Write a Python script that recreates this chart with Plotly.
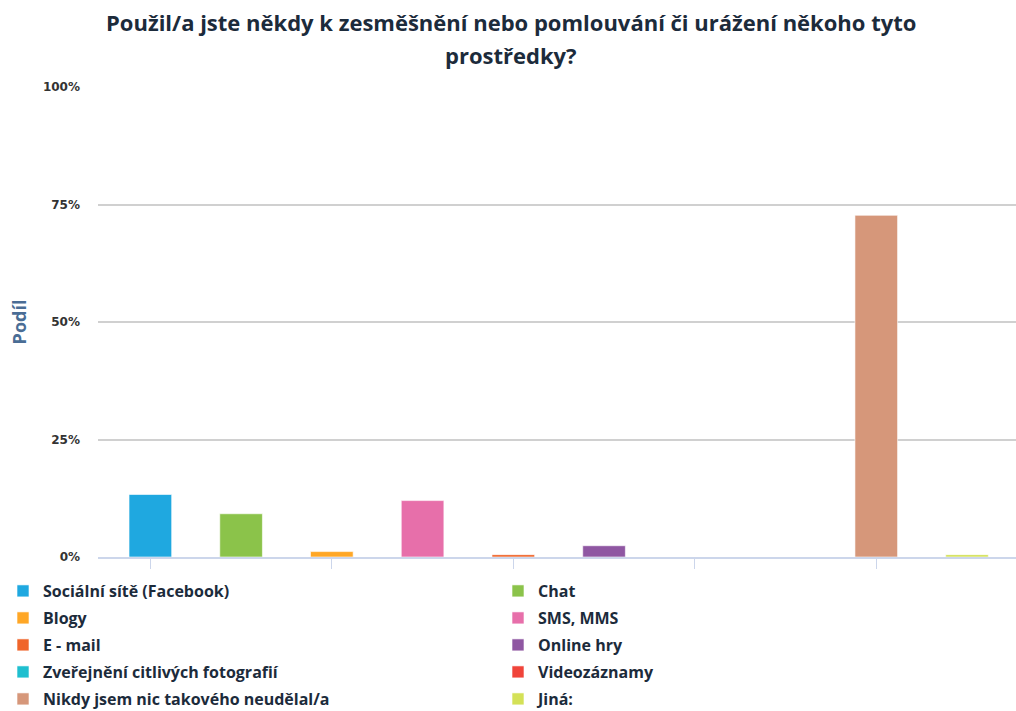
import plotly.graph_objects as go

title_lines = ["Použil/a jste někdy k zesměšnění nebo pomlouvání či urážení někoho tyto",
               "prostředky?"]
categories = ["Sociální sítě (Facebook)", "Chat", "Blogy", "SMS, MMS", "E - mail",
              "Online hry", "Zveřejnění citlivých fotografií", "Videozáznamy",
              "Nikdy jsem nic takového neudělal/a", "Jiná:"]
values = [13.3, 9.2, 1.15, 12.0, 0.5, 2.4, 0.0, 0.0, 72.7, 0.5]
colors = ["#1fa8e0", "#8bc34a", "#ffa726", "#e76faa", "#f0652a",
          "#8f57a2", "#1fbfcf", "#f0443a", "#d6977a", "#d4e157"]
y_ticks = [0, 25, 50, 75, 100]
y_tick_labels = ["0%", "25%", "50%", "75%", "100%"]

W, H = 1016, 711
ML, MR, MT, MB = 98, 0, 87, 154
plot_h = H - MT - MB
plot_w = W - ML - MR


def py(p):  # pixel row -> paper y
    return (H - MB - p) / plot_h


def px(p):  # pixel col -> paper x
    return (p - ML) / plot_w


legend_names = ["legend", "legend2", "legend3", "legend4", "legend5"]

fig = go.Figure()
for i, (name, v, c) in enumerate(zip(categories, values, colors)):
    fig.add_trace(go.Bar(
        x=[i], y=[v], name=name, width=0.47,
        legend=legend_names[i // 2],
        marker=dict(color=c, line=dict(color="rgba(255,255,255,0.6)", width=1)),
        hovertemplate=name + ": %{y}%<extra></extra>",
    ))

font_main = "Open Sans"
title_font = dict(family=font_main, size=22, color="#1c2b3b", weight="bold")
legend_font = dict(family=font_main, size=16, color="#1c2b3b", weight="bold")

legends = {}
row_y = [591, 618, 645, 672, 699]
for k, ln in enumerate(legend_names):
    legends[ln] = dict(orientation="h", x=px(3), xanchor="left", y=py(row_y[k]),
                       yanchor="middle", entrywidth=450, entrywidthmode="pixels",
                       font=legend_font, bgcolor="rgba(0,0,0,0)",
                       itemclick=False, itemdoubleclick=False)

fig.update_layout(
    width=W, height=H,
    barmode="overlay",
    paper_bgcolor="white", plot_bgcolor="white",
    margin=dict(l=ML, r=MR, t=MT, b=MB, autoexpand=False),
    showlegend=True,
    annotations=[
        dict(text=title_lines[0], x=px(511), xref="paper", xanchor="center",
             y=py(22), yref="paper", yanchor="middle", showarrow=False, font=title_font),
        dict(text=title_lines[1], x=px(511), xref="paper", xanchor="center",
             y=py(55), yref="paper", yanchor="middle", showarrow=False, font=title_font),
    ],
    xaxis=dict(range=[-0.577, 9.54], tickvals=[0, 2, 4, 6, 8], ticktext=["", "", "", "", ""],
               ticks="outside", ticklen=10, tickcolor="#ccd6eb", tickwidth=1,
               showgrid=False, showline=True, linecolor="#ccd6eb", linewidth=2,
               zeroline=False, fixedrange=True),
    yaxis=dict(range=[0, 100], tickvals=y_ticks, ticktext=y_tick_labels,
               showgrid=True, gridcolor="#d0d0d0", gridwidth=1.5, zeroline=False,
               ticks="", ticklabelstandoff=17,
               tickfont=dict(family="DejaVu Sans", size=12, color="#333333", weight="bold"),
               title=dict(text="Podíl", standoff=11,
                          font=dict(family=font_main, size=18, color="#4a6d95", weight="bold"))),
    **legends,
)

fig.write_html("out.html", config={"displayModeBar": False},
               post_script="document.body.style.margin='0';document.body.style.overflow='hidden';")
